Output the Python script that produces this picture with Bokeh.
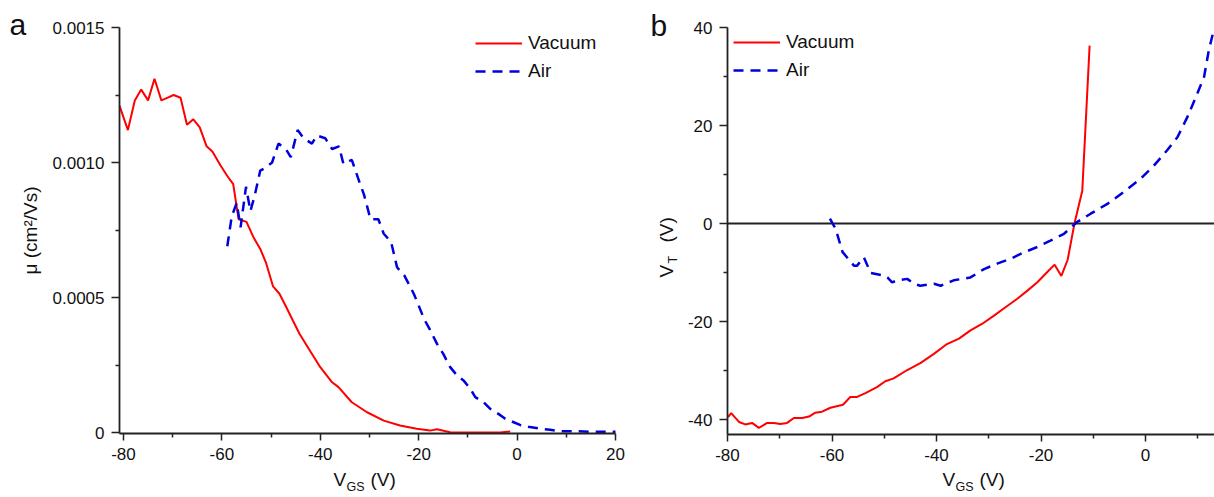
from math import pi
from bokeh.plotting import figure
from bokeh.models import Range1d, FixedTicker, Label, CustomJSTickFormatter
from bokeh.layouts import row
from bokeh.embed import file_html
from bokeh.resources import INLINE

# ---------------- data ----------------
# panel a: mobility vs V_GS
mu_vac_x = [-80.8, -79.1, -77.7, -76.4, -75.0, -73.7, -72.3, -71.0, -69.8, -68.4, -67.1, -65.8,
            -64.5, -63.1, -61.9, -60.3, -58.9, -57.7, -56.6, -55.0, -53.5, -52.2, -51.0, -49.6,
            -48.3, -46.9, -45.5, -44.2, -42.0, -40.0, -37.6, -36.3, -33.6, -30.5, -27.1, -23.8,
            -20.4, -17.7, -16.3, -13.6, -3.5, -1.4]
mu_vac_y = [0.00121, 0.00112, 0.00123, 0.00127, 0.00123, 0.00131, 0.00123, 0.00124, 0.00125,
            0.00124, 0.00114, 0.00116, 0.00113, 0.00106, 0.00104, 0.00099, 0.00095, 0.00092,
            0.00079, 0.00078, 0.00072, 0.00068, 0.000627, 0.000541, 0.000514, 0.000464,
            0.000412, 0.000365, 0.000300, 0.000242, 0.000186, 0.000168, 0.000112, 0.000075,
            0.000044, 0.000026, 0.000014, 0.000007, 0.000012, 0.000001, 0.0, 0.000004]

mu_air_x = [-58.9, -58.0, -57.0, -56.2, -55.1, -54.2, -53.3, -52.2, -51.2, -49.8, -48.5, -47.0,
            -46.0, -44.6, -43.4, -41.7, -40.7, -39.0, -37.6, -36.2, -35.3, -33.6, -31.9, -31.1,
            -29.8, -28.2, -27.1, -25.6, -24.4, -22.9, -21.0, -20.0, -18.9, -17.8, -16.3, -15.0,
            -13.6, -12.2, -10.9, -9.5, -8.5, -6.8, -5.5, -3.8, -2.4, -0.7, 0.6, 2.6, 4.7, 6.7,
            8.8, 10.8, 15.0, 20.0]
mu_air_y = [0.00069, 0.00080, 0.00085, 0.00076, 0.00091, 0.00082, 0.00088, 0.00097, 0.00098,
            0.00100, 0.00107, 0.00105, 0.00102, 0.00112, 0.00109, 0.00107, 0.00110, 0.00109,
            0.00105, 0.00106, 0.000995, 0.00101, 0.00092, 0.00088, 0.00079, 0.00079, 0.000736,
            0.000705, 0.000612, 0.000581, 0.000514, 0.000470, 0.000420, 0.000384, 0.000329,
            0.000291, 0.000242, 0.000211, 0.000193, 0.000162, 0.000131, 0.000112, 0.000088,
            0.000069, 0.000051, 0.000038, 0.000028, 0.000020, 0.000014, 0.000010, 0.000005,
            0.000005, 0.000003, 0.000003]

# panel b: threshold voltage vs V_GS
vt_vac_x = [-79.9, -79.3, -77.8, -76.6, -75.3, -74.0, -72.4, -71.1, -69.9, -68.6, -67.3, -65.7,
            -64.4, -63.2, -61.9, -60.3, -57.9, -56.5, -55.2, -53.6, -51.4, -49.8, -48.2, -45.6,
            -43.1, -40.5, -38.0, -35.7, -33.5, -31.3, -29.0, -26.8, -24.6, -22.6, -20.7, -18.8,
            -17.4, -16.1, -14.9, -13.6, -12.1, -10.7]
vt_vac_y = [-39.5, -38.7, -40.5, -41.0, -40.7, -41.7, -40.7, -40.7, -40.9, -40.7, -39.7, -39.7,
            -39.4, -38.6, -38.4, -37.6, -37.0, -35.4, -35.4, -34.6, -33.4, -32.2, -31.6, -29.9,
            -28.5, -26.6, -24.6, -23.5, -21.8, -20.5, -18.8, -17.1, -15.4, -13.7, -12.0, -9.9,
            -8.4, -10.7, -7.4, 0.0, 6.7, 36.3]

vt_air_x = [-60.4, -59.3, -58.0, -55.8, -55.2, -53.9, -52.6, -50.1, -49.4, -48.5, -47.5, -45.6,
            -44.3, -43.1, -40.5, -39.2, -36.7, -33.5, -30.9, -28.4, -25.8, -23.3, -20.7, -18.2,
            -15.6, -13.1, -10.5, -7.3, -4.2, -1.0, 1.6, 4.1, 6.1, 8.0, 9.9, 11.2, 12.1, 13.1]
vt_air_y = [1.0, -1.1, -5.8, -8.6, -8.6, -6.9, -10.1, -10.6, -11.0, -12.0, -11.6, -11.3,
            -12.3, -12.7, -12.3, -12.7, -11.6, -11.0, -9.3, -8.2, -7.2, -5.9, -4.8, -3.5,
            -2.1, 0.3, 2.0, 4.0, 6.4, 9.1, 11.8, 14.9, 17.6, 21.7, 26.5, 29.9, 35.3, 39.7]

# axis extents and ticks
axis_a_x = (-80.81, 20.0)
axis_a_y = (-0.0000037, 0.0015)
axis_b_x = (-80.0, 13.2)
axis_b_y = (-43.06, 40.0)
x_ticks_a = [-80, -60, -40, -20, 0, 20]
x_minor_a = [-70, -50, -30, -10, 10]
y_ticks_a = [0, 0.0005, 0.001, 0.0015]
y_minor_a = [0.00025, 0.00075, 0.00125]
x_ticks_b = [-80, -60, -40, -20, 0]
x_minor_b = [-70, -50, -30, -10, 10]
y_ticks_b = [-40, -20, 0, 20, 40]
y_minor_b = [-30, -10, 10, 30]

series_names = ["Vacuum", "Air"]

# ---------------- styling ----------------
FONT = "Liberation Sans"
RED = "#ff0000"
BLUE = "#0000dd"
AX = "#222222"
TXT = "#111111"
DASH = "10 7"
H = 497


def make_fig(W, box, ax_x, ax_y):
    # box: pixel position of the axes box inside the canvas (left, right, top, bottom)
    pl, pr, pt, pb = box
    sx = (ax_x[1] - ax_x[0]) / (pr - pl)
    xs = ax_x[0] - pl * sx
    sy = (ax_y[1] - ax_y[0]) / (pb - pt)
    yt = ax_y[1] + pt * sy
    p = figure(width=W, height=H, output_backend="svg", toolbar_location=None,
               x_range=Range1d(xs, xs + W * sx), y_range=Range1d(yt - H * sy, yt),
               min_border=0, min_border_left=0, min_border_right=0,
               min_border_top=0, min_border_bottom=0)
    p.xgrid.visible = False
    p.ygrid.visible = False
    p.outline_line_color = None
    p.background_fill_color = "white"
    p.border_fill_color = "white"
    xa, ya = p.xaxis[0], p.yaxis[0]
    xa.fixed_location = ax_y[0]
    xa.bounds = ax_x
    ya.fixed_location = ax_x[0]
    ya.bounds = ax_y
    for ax in (xa, ya):
        ax.axis_line_color = AX
        ax.axis_line_width = 1.8
        ax.major_tick_line_color = AX
        ax.major_tick_line_width = 1.5
        ax.minor_tick_line_color = AX
        ax.minor_tick_line_width = 1.5
        ax.major_tick_in = 0
        ax.major_tick_out = 7
        ax.minor_tick_in = 0
        ax.minor_tick_out = 4
        ax.major_label_text_font = FONT
        ax.major_label_text_font_size = "17px"
        ax.major_label_text_color = TXT
        ax.axis_label_text_font = FONT
        ax.axis_label_text_font_size = "19px"
        ax.axis_label_text_font_style = "normal"
        ax.axis_label_text_color = TXT
    xa.major_label_standoff = 7
    ya.major_tick_out = 8
    ya.major_label_standoff = 7
    xa.formatter = CustomJSTickFormatter(code="return tick.toFixed(0);")
    return p


def legend_style(p, loc):
    lg = p.legend[0]
    lg.location = loc
    lg.label_text_font = FONT
    lg.label_text_font_size = "19px"
    lg.label_text_color = TXT
    lg.glyph_width = 47
    lg.glyph_height = 20
    lg.label_height = 20
    lg.label_standoff = 6
    lg.spacing = 6
    lg.padding = 0
    lg.margin = 0
    lg.border_line_color = None
    lg.background_fill_alpha = 0


def txt(p, x, y, s, size, angle=0.0):
    # x, y: canvas pixels measured from the top-left corner of the figure
    p.add_layout(Label(x=x, y=H - y, x_units="screen", y_units="screen", text=s,
                       text_font=FONT, text_font_size=size, text_color=TXT,
                       text_align="left", text_baseline="alphabetic", angle=angle))


# ---------------- panel a ----------------
pa = make_fig(640, (119, 615, 27, 433), axis_a_x, axis_a_y)
pa.xaxis[0].ticker = FixedTicker(ticks=x_ticks_a, minor_ticks=x_minor_a)
pa.yaxis[0].ticker = FixedTicker(ticks=y_ticks_a, minor_ticks=y_minor_a)
pa.yaxis[0].formatter = CustomJSTickFormatter(code="return tick == 0 ? '0' : tick.toFixed(4);")
pa.yaxis[0].axis_label = "μ (cm²/Vs)"
pa.yaxis[0].axis_label_standoff = 9
pa.line(mu_vac_x, mu_vac_y, line_color=RED, line_width=2, legend_label=series_names[0])
pa.line(mu_air_x, mu_air_y, line_color=BLUE, line_width=2.5, line_dash=DASH,
        legend_label=series_names[1])
legend_style(pa, (475, H - 82))
txt(pa, 9, 24, "a", "30px")
txt(pa, 333, 479, "V", "19px")
txt(pa, 346, 486, "GS", "12.5px")
txt(pa, 370, 479, "(V)", "19px")

# ---------------- panel b ----------------
pb = make_fig(574, (87, 574, 27, 434), axis_b_x, axis_b_y)
pb.xaxis[0].ticker = FixedTicker(ticks=x_ticks_b, minor_ticks=x_minor_b)
pb.yaxis[0].ticker = FixedTicker(ticks=y_ticks_b, minor_ticks=y_minor_b)
pb.yaxis[0].formatter = CustomJSTickFormatter(code="return tick.toFixed(0);")
pb.segment(x0=[axis_b_x[0]], y0=[0], x1=[axis_b_x[1]], y1=[0], line_color=AX, line_width=1.8)
pb.line(vt_vac_x, vt_vac_y, line_color=RED, line_width=2, legend_label=series_names[0])
pb.line(vt_air_x, vt_air_y, line_color=BLUE, line_width=2.5, line_dash=DASH,
        legend_label=series_names[1])
legend_style(pb, (93, H - 81))
txt(pb, 10, 25, "b", "30px")
txt(pb, 302, 479, "V", "19px")
txt(pb, 315, 486, "GS", "12.5px")
txt(pb, 339, 479, "(V)", "19px")
txt(pb, 26, 277, "V", "19px", pi / 2)
txt(pb, 32, 263, "T", "12.5px", pi / 2)
txt(pb, 26, 242, "(V)", "19px", pi / 2)

layout = row(pa, pb)
open("out.html", "w").write(file_html(layout, INLINE))
